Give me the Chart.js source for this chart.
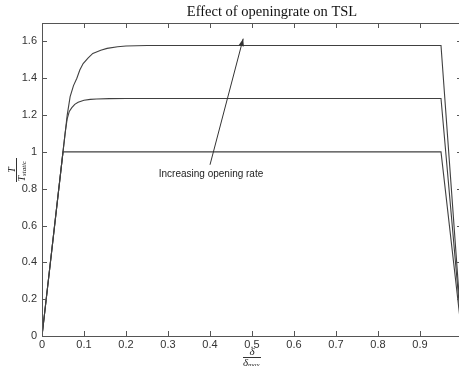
<!DOCTYPE html>
<html>
<head>
<meta charset="utf-8">
<script src="https://cdn.jsdelivr.net/npm/chart.js@4.4.1/dist/chart.umd.min.js"></script>
<style>
  html, body { margin: 0; padding: 0; background: #fff; overflow: hidden; }
  #wrap { width: 544px; height: 366px; }
</style>
</head>
<body>
<div id="wrap"><canvas id="tsl"></canvas></div>
<script>
// opening rate curves
let lowX = [0, 0.05, 0.95, 1.0]
let lowY = [0, 1.0, 1.0, 0]

let midX = [0, 0.05, 0.055, 0.06, 0.065, 0.071, 0.078, 0.086, 0.1, 0.115, 0.13, 0.16, 0.2, 0.95, 1.0]
let midY = [0, 1.0, 1.1, 1.18, 1.22, 1.24, 1.258, 1.27, 1.28, 1.285, 1.287, 1.289, 1.29, 1.29, 0]

let highX = [0, 0.05, 0.055, 0.06, 0.067, 0.075, 0.083, 0.09, 0.098, 0.11, 0.121, 0.14, 0.155, 0.18, 0.2, 0.25, 0.95, 1.0]
let highY = [0, 1.0, 1.1, 1.2, 1.3, 1.36, 1.40, 1.445, 1.48, 1.51, 1.535, 1.552, 1.562, 1.571, 1.575, 1.578, 1.578, 0]

let xTicks = [0, 0.1, 0.2, 0.3, 0.4, 0.5, 0.6, 0.7, 0.8, 0.9]
let yTicks = [0, 0.2, 0.4, 0.6, 0.8, 1, 1.2, 1.4, 1.6]

let titleText = 'Effect of openingrate on TSL'
let noteText = 'Increasing opening rate'
let arrowFrom = [0.4, 0.93]
let arrowTo = [0.479, 1.615]

function pts(xs, ys) {
  return xs.map((x, i) => ({ x: x, y: ys[i] }))
}

let lineColor = '#404040'

// matlab style box, inward ticks, title, annotation and fraction labels
let extras = {
  id: 'extras',
  afterDraw(chart) {
    let ctx = chart.ctx
    let a = chart.chartArea
    let sx = chart.scales.x
    let sy = chart.scales.y
    ctx.save()
    ctx.strokeStyle = '#555'
    ctx.lineWidth = 1
    ctx.strokeRect(a.left + 0.5, a.top + 0.5, a.right - a.left, a.bottom - a.top)
    ctx.beginPath()
    xTicks.forEach(v => {
      let px = Math.round(sx.getPixelForValue(v)) + 0.5
      ctx.moveTo(px, a.bottom); ctx.lineTo(px, a.bottom - 5)
      ctx.moveTo(px, a.top); ctx.lineTo(px, a.top + 5)
    })
    yTicks.forEach(v => {
      let py = Math.round(sy.getPixelForValue(v)) + 0.5
      ctx.moveTo(a.left, py); ctx.lineTo(a.left + 5, py)
      ctx.moveTo(a.right, py); ctx.lineTo(a.right - 5, py)
    })
    ctx.stroke()

    // title (the figure is cropped on the right, so it sits right of the plot centre)
    ctx.fillStyle = '#111'
    ctx.font = '14.5px "Liberation Serif", serif'
    ctx.textAlign = 'center'
    ctx.textBaseline = 'middle'
    ctx.fillText(titleText, 272, 12)

    // arrow
    let x0 = sx.getPixelForValue(arrowFrom[0]), y0 = sy.getPixelForValue(arrowFrom[1])
    let x1 = sx.getPixelForValue(arrowTo[0]), y1 = sy.getPixelForValue(arrowTo[1])
    ctx.strokeStyle = '#333'
    ctx.fillStyle = '#333'
    ctx.beginPath(); ctx.moveTo(x0, y0); ctx.lineTo(x1, y1); ctx.stroke()
    let ang = Math.atan2(y1 - y0, x1 - x0)
    ctx.beginPath()
    ctx.moveTo(x1, y1)
    ctx.lineTo(x1 - 8 * Math.cos(ang - 0.35), y1 - 8 * Math.sin(ang - 0.35))
    ctx.lineTo(x1 - 8 * Math.cos(ang + 0.35), y1 - 8 * Math.sin(ang + 0.35))
    ctx.closePath(); ctx.fill()

    ctx.font = '10px "Liberation Sans", Arial, sans-serif'
    ctx.fillStyle = '#222'
    ctx.fillText(noteText, x0 + 1, y0 + 9)

    // x label: delta over delta_max
    let cx = sx.getPixelForValue(0.5)
    ctx.font = 'italic 11px "Liberation Serif", serif'
    ctx.fillText('δ', cx, 352)
    ctx.beginPath(); ctx.moveTo(cx - 9, 357.5); ctx.lineTo(cx + 9, 357.5); ctx.stroke()
    ctx.textAlign = 'right'
    ctx.fillText('δ', cx - 4, 363)
    ctx.font = 'italic 7px "Liberation Serif", serif'
    ctx.textAlign = 'left'
    ctx.fillText('max', cx - 4, 365)

    // y label: T over T_static, rotated
    ctx.translate(17, 170)
    ctx.rotate(-Math.PI / 2)
    ctx.font = 'italic 10px "Liberation Serif", serif'
    ctx.textAlign = 'center'
    ctx.fillText('T', 0, -5)
    ctx.beginPath(); ctx.moveTo(-12, -0.5); ctx.lineTo(12, -0.5); ctx.stroke()
    ctx.textAlign = 'right'
    ctx.fillText('T', -6, 5)
    ctx.font = 'italic 7px "Liberation Serif", serif'
    ctx.textAlign = 'left'
    ctx.fillText('static', -6, 7)
    ctx.restore()
  }
}

let chart1 = document.getElementById('tsl')
let tslChart = new Chart(chart1, {
  type: 'line',
  data: {
    datasets: [
      { data: pts(lowX, lowY), borderColor: lineColor, borderWidth: 1.1, pointRadius: 0, tension: 0 },
      { data: pts(midX, midY), borderColor: lineColor, borderWidth: 1.1, pointRadius: 0, tension: 0 },
      { data: pts(highX, highY), borderColor: lineColor, borderWidth: 1.1, pointRadius: 0, tension: 0 }
    ]
  },
  options: {
    responsive: true,
    maintainAspectRatio: false,
    animation: false,
    layout: { padding: { left: 0, right: 82, top: 23, bottom: 0 } },
    plugins: {
      legend: { display: false },
      tooltip: { enabled: false },
      title: { display: false }
    },
    scales: {
      x: {
        type: 'linear',
        min: 0,
        max: 1,
        grid: { display: false, drawTicks: false },
        border: { display: false },
        afterBuildTicks: s => { s.ticks = xTicks.map(v => ({ value: v })) },
        afterFit: s => { s.height = 30 },
        ticks: { padding: 2, color: '#333', maxRotation: 0, font: { family: '"Liberation Sans", Arial, sans-serif', size: 11 } }
      },
      y: {
        type: 'linear',
        min: 0,
        max: 1.7,
        grid: { display: false, drawTicks: false },
        border: { display: false },
        afterBuildTicks: s => { s.ticks = yTicks.map(v => ({ value: v })) },
        afterFit: s => { s.width = 42 },
        ticks: {
          padding: 5, color: '#333',
          font: { family: '"Liberation Sans", Arial, sans-serif', size: 11 },
          callback: v => String(Math.round(v * 10) / 10)
        }
      }
    }
  },
  plugins: [extras]
});
</script>
</body>
</html>
